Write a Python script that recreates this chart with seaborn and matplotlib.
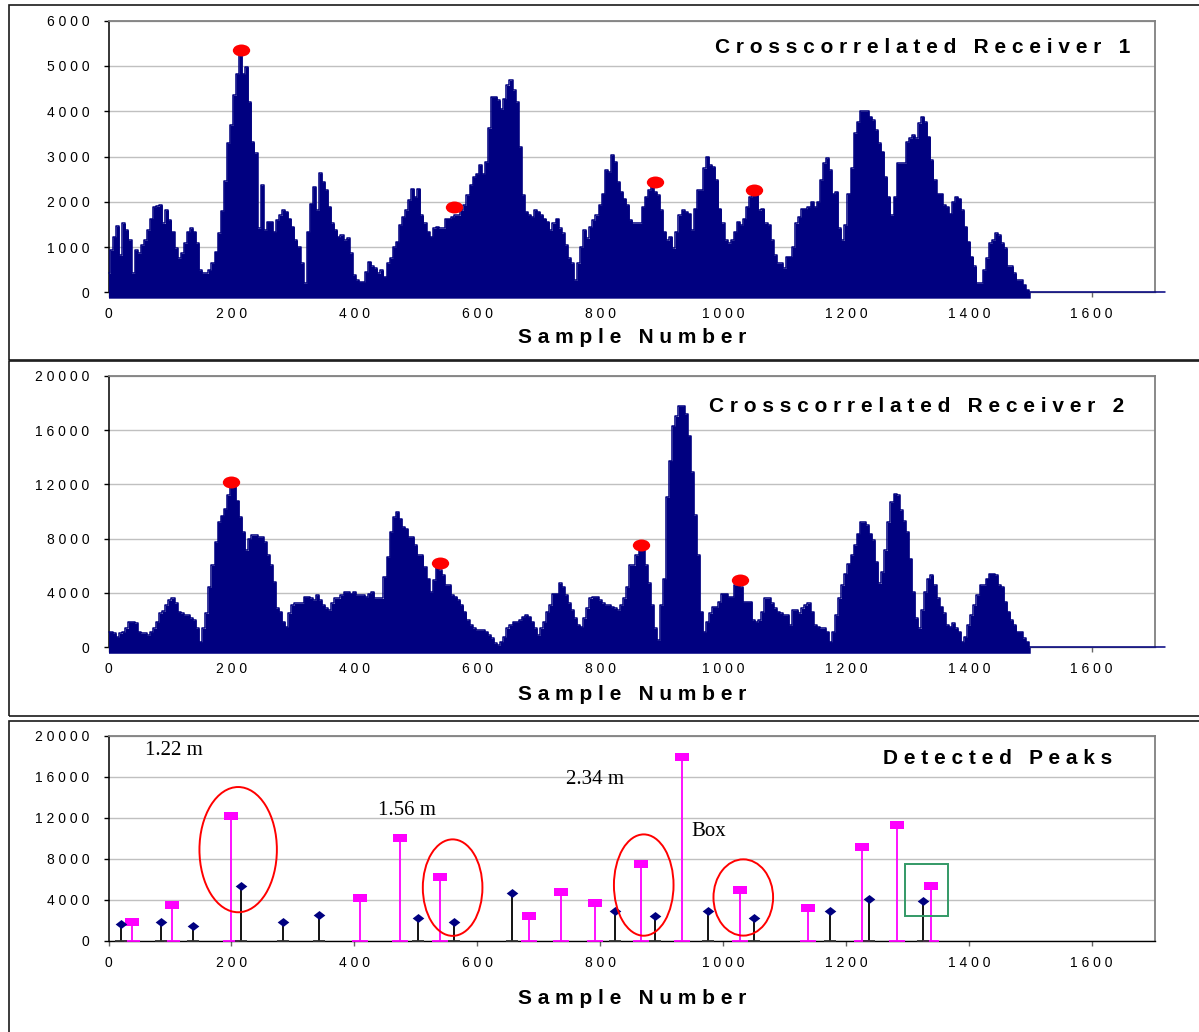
# 受信波形の相互相関とピーク検出の再現プロット
import matplotlib
matplotlib.use("Agg")
import matplotlib.pyplot as plt
import seaborn as sns

import numpy as np
import pandas as pd
from matplotlib.patches import Ellipse, Rectangle
from matplotlib.path import Path
from matplotlib.transforms import Affine2D
from matplotlib.ticker import FuncFormatter, MultipleLocator

# ---- データ (5サンプル毎の包絡値) ----
SAMPLE_STEP = 5
SIGNAL_END = 1720  # 0 の平坦部が続く最後のサンプル

rec1_signal = [
    420, 930, 1230, 1460, 820, 1520, 1375, 1150, 420, 930,
    860, 1040, 1150, 1375, 1630, 1890, 1900, 1930, 1520, 1815,
    1600, 1340, 970, 750, 860, 1080, 1340, 1410, 1340, 1080,
    490, 420, 420, 500, 650, 900, 1300, 1800, 2450, 3300,
    3690, 4350, 4830, 5300, 4830, 4980, 4200, 3320, 3070, 1410,
    2360, 1375, 1560, 1560, 1340, 1600, 1700, 1815, 1780, 1630,
    1450, 1150, 1000, 640, 200, 1340, 1960, 2330, 1815, 2630,
    2440, 2260, 1890, 1520, 1375, 1230, 1260, 1150, 1190, 860,
    380, 270, 235, 235, 455, 680, 570, 530, 420, 490,
    345, 640, 750, 1000, 1120, 1490, 1670, 1815, 2040, 2290,
    2110, 2290, 1700, 1520, 1340, 1230, 1410, 1450, 1410, 1410,
    1630, 1630,
    1670, 1700, 1700, 1815, 1930, 2150, 2370, 2550, 2620, 2810,
    2620, 2880, 3620, 4320, 4320, 4240, 4050, 4280, 4570, 4680,
    4460, 4200, 3210, 2150, 1780, 1710, 1670, 1815, 1780, 1710,
    1630, 1560, 1375, 1520, 1630, 1410, 1300, 1040, 750, 640,
    270, 640, 1000, 1375, 1190, 1450, 1600, 1700, 1930, 2180,
    2700, 2660, 3030, 2880, 2440, 2220, 2070, 1930, 1600, 1520,
    1520, 1520, 1890, 2110, 2260, 2400, 2220, 2150, 1815, 1340,
    1150, 1230, 970, 1340, 1700, 1815, 1780, 1740, 1375, 1850,
    2260, 2260, 2735, 3000, 2810, 2770, 2480, 1850, 1520, 1150,
    1080, 1150, 1340, 1560, 1490, 1630, 1890, 2110, 2200, 2150,
    1815, 1850, 1520, 1490, 1150, 820, 640,
    640, 530, 790, 790, 1000, 1520, 1670, 1850, 1850, 1890,
    2000, 1890, 2000, 2480, 2850, 2960, 2700, 2180, 2220, 1410,
    1150, 1490, 2180, 2735, 3510, 3760, 4000, 4000, 4000, 3880,
    3800, 3580, 3290, 3110, 2550, 2110, 1700, 2110, 2850, 2850,
    2850, 3320, 3400, 3470, 3400, 3730, 3880, 3760, 3440, 2920,
    2480, 2180, 2180, 1930, 1890, 1740, 2000, 2110, 2070, 1815,
    1450, 1120, 790, 570, 200, 200, 490, 750, 1080, 1150,
    1300, 1260, 1080, 970, 570, 570, 420, 270, 270, 170,
    60, 0,
]

rec2_signal = [
    1150, 1150, 1030, 780, 1030, 1150, 1390, 1880, 1880, 1760,
    1150, 1030, 1030, 900, 1150, 1390, 1880, 2500, 2670, 3110,
    3470, 3600, 3230, 2620, 2500, 2370, 2370, 2130, 2000, 1390,
    420, 1390, 2500, 4450, 6040, 7750, 9220, 9700, 10200, 11180,
    12030, 11910, 10810, 9590, 8490, 7140, 8000, 8240, 8240, 8120,
    8120, 7750, 6780, 6040, 4820, 2860, 2620, 1880, 1520, 2500,
    3110, 3230, 3230, 3230, 3720, 3720, 3600, 3470, 3840, 3470,
    3110, 2860, 2740, 3230, 3600, 3600, 3840, 4080, 4080, 3960,
    4080, 3840, 3840, 3840, 3720, 3960, 4080, 3600, 3600, 3600,
    5190, 6650, 8490, 9590, 9960, 9470, 8860, 8730, 8120, 8120,
    7510, 6780, 6780, 5920, 5060, 4080, 4940, 5920, 5670, 5310,
    4570, 4570,
    3840, 3720, 3470, 3110, 2620, 2000, 1640, 1390, 1270, 1270,
    1270, 1150, 900, 660, 290, 170, 420, 780, 1390, 1640,
    1880, 1880, 2000, 2250, 2370, 2250, 1880, 1390, 900, 1390,
    1880, 2620, 3110, 3960, 3960, 4700, 4450, 3840, 3230, 2740,
    2130, 1640, 1520, 2130, 2860, 3600, 3720, 3720, 3470, 3230,
    3110, 3110, 2980, 2860, 2740, 3110, 3600, 4450, 6040, 6040,
    6780, 7200, 7140, 6040, 4700, 3110, 1390, 540, 3110, 5060,
    11060, 13750, 16320, 17000, 17780, 17780, 17170, 15580, 12890, 9710,
    6780, 2620, 1150, 1880, 2500, 2980, 2980, 3350, 3960, 3960,
    3720, 3720, 4570, 4570, 4450, 3350, 3350, 3350, 2000, 1880,
    2000, 2620, 3600, 3600, 3230, 2860, 2620,
    2500, 2370, 2370, 1640, 2740, 2740, 2500, 2860, 3110, 3230,
    2620, 1640, 1520, 1390, 1390, 1150, 420, 1150, 2370, 3600,
    4570, 5430, 6160, 6780, 7510, 8370, 9220, 9220, 8980, 8370,
    7880, 6290, 4700, 5550, 7140, 9220, 10690, 11300, 11180, 10080,
    9300, 8490, 6530, 4080, 2130, 1390, 2740, 4080, 5060, 5310,
    4570, 3600, 3000, 2500, 1640, 1520, 1760, 1390, 1150, 420,
    780, 1640, 2370, 3110, 3840, 4570, 4570, 5060, 5430, 5430,
    5310, 4570, 4450, 3350, 2620, 2000, 1640, 1150, 1150, 660,
    420, 0,
]

# 検出ピーク
rec1_peak_samples = [21, 85, 137, 215, 284, 343, 504, 562, 657, 825, 890, 975, 1050, 1174, 1237, 1325]
rec1_peak_values = [1620, 1880, 1460, 5360, 1880, 2530, 2270, 1880, 4640, 2950, 2440, 2950, 2270, 2950, 4060, 3900]
rec2_peak_samples = [39, 104, 199, 409, 474, 540, 684, 736, 792, 866, 933, 1028, 1139, 1227, 1283, 1339]
rec2_peak_values = [1880, 3500, 12200, 4150, 10060, 6200, 2440, 4800, 3730, 7500, 17890, 4970, 3250, 9120, 11300, 5390]

# 対応付けたピーク (赤丸)
rec1_matched = [3, 7, 10, 12]
rec2_matched = [2, 5, 9, 11]

distance_labels = ["1.22 m", "1.56 m", "2.34 m", "Box"]

# ---- スタイル ----
sns.set_theme(style="white")
plt.rcParams["font.family"] = ["Liberation Sans", "DejaVu Sans"]

NAVY = "#000080"
MAGENTA = "#FF00FF"
RED = "#FF0000"
GRID = "#C0C0C0"
BOX = "#808080"
W, H = 1199, 1032
X_MAX = 1703


def spaced(text):
    # 字間を広げた見出し
    return "   ".join(" ".join(w) for w in text.split(" "))


tick_fmt = FuncFormatter(lambda v, pos: " ".join(str(int(round(v)))))

ellipse_marker = Path.unit_circle().transformed(Affine2D().scale(1.45, 1.0))
rect_marker = Path([(-1.6, -1), (1.6, -1), (1.6, 1), (-1.6, 1), (-1.6, -1)], closed=True)
diamond_marker = Path([(0, 1), (1.3, 0), (0, -1), (-1.3, 0), (0, 1)], closed=True)

fig = plt.figure(figsize=(W / 100, H / 100), dpi=100)


def px_axes(left, top, right, bottom):
    return fig.add_axes([left / W, 1 - bottom / H, (right - left) / W, (bottom - top) / H])


def style_axes(ax, ymax, ystep, title, title_x, title_y, label_y, bottom_color):
    ax.set_xlim(0, X_MAX)
    ax.set_ylim(0, ymax)
    ax.xaxis.set_major_locator(MultipleLocator(200))
    ax.yaxis.set_major_locator(MultipleLocator(ystep))
    ax.xaxis.set_major_formatter(tick_fmt)
    ax.yaxis.set_major_formatter(tick_fmt)
    ax.grid(axis="y", color=GRID, lw=1)
    ax.grid(axis="x", visible=False)
    ax.set_axisbelow(True)
    for side in ["top", "right"]:
        ax.spines[side].set_color(BOX)
        ax.spines[side].set_linewidth(1.3)
    ax.spines["left"].set_color("black")
    ax.spines["left"].set_linewidth(1.1)
    ax.spines["bottom"].set_color(bottom_color)
    ax.spines["bottom"].set_linewidth(1.0)
    ax.tick_params(axis="y", which="major", left=True, direction="out", length=3.6,
                   width=1, color="black", pad=10, labelsize=10, labelcolor="black")
    ax.tick_params(axis="x", which="major", bottom=True, direction="out", length=3.6,
                   width=1, color="#666666", pad=7, labelsize=10, labelcolor="black")
    ax.set_ylabel("")
    ax.set_xlabel(spaced("Sample Number"), fontsize=15, fontweight="bold", color="black")
    ax.xaxis.set_label_coords(0.5, label_y)
    ax.xaxis.label.set_va("center")
    ax.text(title_x, title_y, spaced(title), transform=ax.transAxes, ha="right", va="center",
            fontsize=15, fontweight="bold", color="black")


def draw_signal(ax, values, base, peak_x, peak_y):
    x = np.arange(len(values)) * SAMPLE_STEP
    df = pd.DataFrame({"sample": list(x) + [SIGNAL_END], "value": list(values) + [0]})
    ax.fill_between(x, base, values, step="mid", color=NAVY, lw=0, clip_on=False, zorder=2.6)
    sns.lineplot(data=df, x="sample", y="value", drawstyle="steps-mid", color=NAVY,
                 lw=1.1, estimator=None, ax=ax, zorder=3)
    for ln in ax.lines:
        ln.set_clip_on(False)
    sns.scatterplot(x=peak_x, y=peak_y, marker=ellipse_marker, s=12.5 ** 2, color=RED,
                    linewidth=0, ax=ax, zorder=5, clip_on=False)
    ax.set_xlabel("")
    ax.set_ylabel("")


# ---- 外枠 ----
frame_kw = dict(transform=fig.transFigure, fill=False, ec="#1a1a1a", lw=1.2, clip_on=False)
fig.add_artist(Rectangle((8.7 / W, 1 - 360 / H), 1.1, (360 - 5) / H, **frame_kw))
fig.add_artist(Rectangle((8.7 / W, 1 - 715.5 / H), 1.1, (715.5 - 360.5) / H, **frame_kw))
fig.add_artist(Rectangle((8.7 / W, -0.05), 1.1, (0.05 + 1 - 721 / H), **frame_kw))

# ---- Receiver 1 ----
ax1 = px_axes(108.5, 20.7, 1155, 292.3)
draw_signal(ax1, rec1_signal, -130,
            [rec1_peak_samples[i] for i in rec1_matched],
            [rec1_peak_values[i] for i in rec1_matched])
style_axes(ax1, 6000, 1000, "Crosscorrelated Receiver 1", 0.976, 0.903, -0.168, BOX)

# ---- Receiver 2 ----
ax2 = px_axes(108.5, 375.7, 1155, 647.3)
draw_signal(ax2, rec2_signal, -440,
            [rec2_peak_samples[i] for i in rec2_matched],
            [rec2_peak_values[i] for i in rec2_matched])
style_axes(ax2, 20000, 4000, "Crosscorrelated Receiver 2", 0.971, 0.885, -0.172, BOX)

# ---- Detected Peaks ----
ax3 = px_axes(108.5, 735.7, 1155, 941)
ax3.vlines(rec2_peak_samples, 0, rec2_peak_values, color=MAGENTA, lw=1.3, zorder=3)
ax3.vlines(rec1_peak_samples, 0, rec1_peak_values, color="black", lw=1.3, zorder=3)
sns.scatterplot(x=rec2_peak_samples, y=[0] * len(rec2_peak_samples), marker="_", s=11 ** 2,
                color=MAGENTA, linewidth=1.3, ax=ax3, zorder=3, clip_on=False)
sns.scatterplot(x=rec1_peak_samples, y=[0] * len(rec1_peak_samples), marker="_", s=8 ** 2,
                color="#333333", linewidth=1.3, ax=ax3, zorder=3, clip_on=False)
sns.scatterplot(x=rec2_peak_samples, y=rec2_peak_values, marker=rect_marker, s=9.5 ** 2,
                color=MAGENTA, linewidth=0, ax=ax3, zorder=4)
sns.scatterplot(x=rec1_peak_samples, y=rec1_peak_values, marker=diamond_marker, s=8.4 ** 2,
                color=NAVY, linewidth=0, ax=ax3, zorder=4)
style_axes(ax3, 20000, 4000, "Detected Peaks", 0.959, 0.891, -0.278, "black")

# 注釈 (丸印・箱・距離)
for cx, cy, ew, eh in [(211, 8900, 126, 12200), (560, 5200, 97, 9400),
                       (871, 5450, 97, 9870), (1033, 4240, 97, 7430)]:
    ax3.add_patch(Ellipse((cx, cy), ew, eh, fill=False, ec=RED, lw=1.4, zorder=6))
ax3.add_patch(Rectangle((1296, 2470), 70, 5030, fill=False, ec="#339966", lw=1.4, zorder=6))
for txt, tx, ty in zip(distance_labels, [60, 438, 745, 948], [18600, 12760, 15780, 10620]):
    ax3.text(tx, ty, txt, ha="left", va="center", fontsize=15,
             family=["Liberation Serif", "DejaVu Serif"], color="black")

fig.savefig("out.png", dpi=100)
